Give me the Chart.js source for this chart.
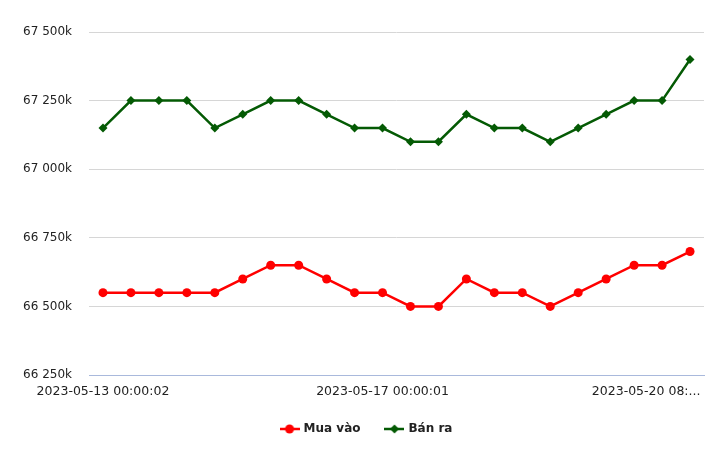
<!DOCTYPE html>
<html>
<head>
<meta charset="utf-8">
<script src="https://cdn.jsdelivr.net/npm/chart.js@4/dist/chart.umd.min.js"></script>
<style>
  html, body { margin: 0; padding: 0; background: #fff; }
  #wrap { width: 720px; height: 452px; position: relative; }
</style>
</head>
<body>
<div id="wrap"><canvas id="c" width="720" height="452"></canvas></div>
<script>
// Category labels (timestamps)
const labels = [
  "2023-05-13 00:00:02", "2023-05-13 09:00:01", "2023-05-14 00:00:02", "2023-05-14 09:00:01",
  "2023-05-15 00:00:01", "2023-05-15 09:00:02", "2023-05-15 14:00:01", "2023-05-16 00:00:02",
  "2023-05-16 09:00:01", "2023-05-16 14:00:02", "2023-05-17 00:00:01", "2023-05-17 09:00:02",
  "2023-05-17 14:00:01", "2023-05-18 00:00:02", "2023-05-18 09:00:01", "2023-05-18 14:00:02",
  "2023-05-19 00:00:01", "2023-05-19 09:00:02", "2023-05-19 14:00:01", "2023-05-20 00:00:02",
  "2023-05-20 08:30:01", "2023-05-20 14:00:02"
];
// Values in thousand VND
const muaVao = [66550, 66550, 66550, 66550, 66550, 66600, 66650, 66650, 66600, 66550, 66550,
                66500, 66500, 66600, 66550, 66550, 66500, 66550, 66600, 66650, 66650, 66700];
const banRa  = [67150, 67250, 67250, 67250, 67150, 67200, 67250, 67250, 67200, 67150, 67150,
                67100, 67100, 67200, 67150, 67150, 67100, 67150, 67200, 67250, 67250, 67400];
const yTicks = [66250, 66500, 66750, 67000, 67250, 67500];
const seriesNames = ["Mua vào", "Bán ra"];

const RED = "#ff0000";
const GREEN = "#045a04";
const FONT = "'DejaVu Sans', Verdana, sans-serif";

function legendIcon(color, shape) {
  const cv = document.createElement('canvas');
  cv.width = 20; cv.height = 12;
  const g = cv.getContext('2d');
  g.strokeStyle = color; g.lineWidth = 2.5;
  g.beginPath(); g.moveTo(0, 6); g.lineTo(20, 6); g.stroke();
  g.fillStyle = color;
  g.beginPath();
  if (shape === 'circle') {
    g.arc(10, 6, 4.5, 0, Math.PI * 2);
  } else {
    g.moveTo(10, 1.5); g.lineTo(14.5, 6); g.lineTo(10, 10.5); g.lineTo(5.5, 6); g.closePath();
  }
  g.fill();
  return cv;
}
const icons = [legendIcon(RED, 'circle'), legendIcon(GREEN, 'diamond')];

function fmt(v) {
  const s = String(Math.round(v));
  return s.replace(/\B(?=(\d{3})+(?!\d))/g, ' ') + 'k';
}

new Chart(document.getElementById('c'), {
  type: 'line',
  data: {
    labels: labels,
    datasets: [
      {
        label: seriesNames[0], data: muaVao,
        borderColor: RED, backgroundColor: RED, borderWidth: 2.5,
        pointStyle: 'circle', pointRadius: 4.5, pointBorderWidth: 0,
        pointBackgroundColor: RED, tension: 0
      },
      {
        label: seriesNames[1], data: banRa,
        borderColor: GREEN, backgroundColor: GREEN, borderWidth: 2.5,
        pointStyle: 'rectRot', pointRadius: 4.5, pointBorderWidth: 0,
        pointBackgroundColor: GREEN, tension: 0
      }
    ]
  },
  options: {
    responsive: false,
    animation: false,
    layout: { padding: { left: 14, right: 0, top: 32, bottom: 7 } },
    plugins: {
      tooltip: { enabled: false },
      legend: {
        position: 'bottom',
        labels: {
          usePointStyle: true,
          pointStyleWidth: 16,
          boxHeight: 12,
          padding: 26,
          color: '#222',
          font: { family: FONT, size: 12, weight: 'bold' },
          generateLabels: (chart) => chart.data.datasets.map((ds, i) => ({
            text: ds.label,
            pointStyle: icons[i],
            fillStyle: ds.borderColor,
            strokeStyle: ds.borderColor,
            lineWidth: 0,
            hidden: false,
            datasetIndex: i,
            fontColor: '#222'
          }))
        }
      }
    },
    scales: {
      x: {
        type: 'category',
        offset: true,
        grid: { display: false, drawTicks: false },
        border: { display: true, color: '#a9b9dc', width: 1 },
        ticks: {
          autoSkip: false,
          maxRotation: 0,
          minRotation: 0,
          padding: 9,
          color: '#222',
          font: { family: FONT, size: 12.5 },
          callback: function (val, idx) {
            if (idx === 0 || idx === 10) return labels[idx];
            if (idx === 20) return labels[idx].slice(0, 14) + '...' + '\u00a0\u00a0\u00a0\u00a0\u00a0\u00a0\u00a0\u00a0';
            return '';
          }
        },
        afterFit: (s) => { s.height = 22; }
      },
      y: {
        min: 66250, max: 67500,
        afterBuildTicks: (s) => { s.ticks = yTicks.map(v => ({ value: v })); },
        grid: { color: '#d6d6d6', lineWidth: 1, drawTicks: false },
        border: { display: false },
        ticks: {
          padding: 17,
          color: '#222',
          font: { family: FONT, size: 12 },
          callback: (v) => fmt(v)
        },
        afterFit: (s) => { s.width = 75; }
      },
      yRight: {
        type: 'linear',
        position: 'right',
        display: true,
        grid: { display: false, drawTicks: false },
        border: { display: false },
        ticks: { display: false },
        afterFit: (s) => { s.width = 16; }
      }
    }
  }
});
</script>
</body>
</html>
